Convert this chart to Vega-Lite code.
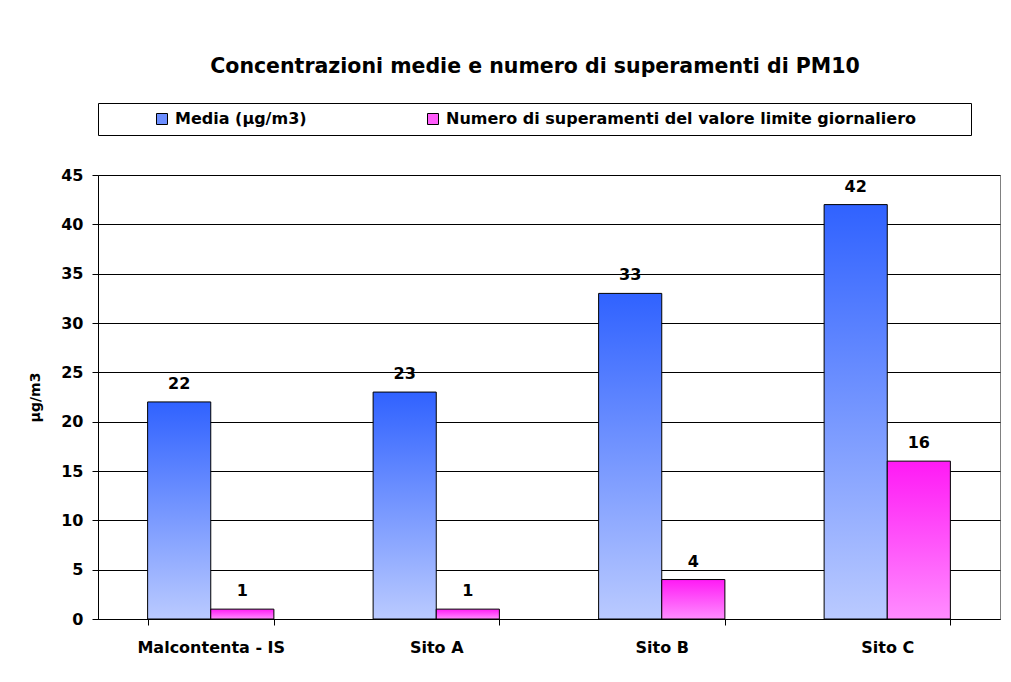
{
  "$schema": "https://vega.github.io/schema/vega-lite/v6.json",
  "width": 902,
  "height": 444,
  "autosize": {"type": "none"},
  "padding": {"left": 98, "top": 175, "right": 11, "bottom": 63},
  "background": "white",
  "title": {
    "text": "Concentrazioni medie e numero di superamenti di PM10",
    "font": "DejaVu Sans",
    "fontSize": 20.5,
    "fontWeight": "bold",
    "color": "#000000",
    "anchor": "middle",
    "offset": 25,
    "dx": -14
  },
  "data": {
    "values": [
      {"sito": "Malcontenta - IS", "serie": "Media (µg/m3)", "valore": 22},
      {"sito": "Malcontenta - IS", "serie": "Numero di superamenti del valore limite giornaliero", "valore": 1},
      {"sito": "Sito A", "serie": "Media (µg/m3)", "valore": 23},
      {"sito": "Sito A", "serie": "Numero di superamenti del valore limite giornaliero", "valore": 1},
      {"sito": "Sito B", "serie": "Media (µg/m3)", "valore": 33},
      {"sito": "Sito B", "serie": "Numero di superamenti del valore limite giornaliero", "valore": 4},
      {"sito": "Sito C", "serie": "Media (µg/m3)", "valore": 42},
      {"sito": "Sito C", "serie": "Numero di superamenti del valore limite giornaliero", "valore": 16}
    ]
  },
  "encoding": {
    "x": {
      "field": "sito",
      "type": "nominal",
      "sort": null,
      "scale": {"paddingInner": 0.44, "paddingOuter": 0.22},
      "axis": {
        "title": null,
        "labelAngle": 0,
        "labelFont": "DejaVu Sans",
        "labelFontSize": 16,
        "labelFontWeight": "bold",
        "labelColor": "#000000",
        "labelPadding": 14,
        "tickBand": "extent",
        "tickSize": 6,
        "tickColor": "#000000",
        "domainColor": "#000000",
        "grid": false
      }
    },
    "xOffset": {"field": "serie", "type": "nominal", "scale": {"paddingInner": 0, "paddingOuter": 0}},
    "y": {
      "field": "valore",
      "type": "quantitative",
      "scale": {"domain": [0, 45], "nice": false},
      "axis": {
        "title": "µg/m3",
        "titleFont": "DejaVu Sans",
        "titleFontSize": 14,
        "titleFontWeight": "bold",
        "titleColor": "#000000",
        "titlePadding": 18,
        "values": [0, 5, 10, 15, 20, 25, 30, 35, 40, 45],
        "labelFont": "DejaVu Sans",
        "labelFontSize": 16,
        "labelFontWeight": "bold",
        "labelColor": "#000000",
        "labelPadding": 9,
        "tickSize": 6,
        "tickColor": "#000000",
        "domainColor": "#000000",
        "gridColor": "#000000",
        "gridWidth": 1,
        "gridOpacity": 1
      }
    }
  },
  "layer": [
    {
      "mark": {"type": "bar", "stroke": "#000000", "strokeWidth": 1},
      "encoding": {
        "color": {
          "condition": [
            {
              "test": "datum.serie === 'Media (µg/m3)'",
              "value": {"gradient": "linear", "x1": 0, "y1": 0, "x2": 0, "y2": 1,
                "stops": [{"offset": 0, "color": "#3062FF"}, {"offset": 1, "color": "#BACAFF"}]}
            },
            {
              "test": "datum.serie !== 'Media (µg/m3)'",
              "value": {"gradient": "linear", "x1": 0, "y1": 0, "x2": 0, "y2": 1,
                "stops": [{"offset": 0, "color": "#FF1AF5"}, {"offset": 1, "color": "#FF8CFF"}]}
            }
          ],
          "field": "serie",
          "type": "nominal",
          "scale": {
            "domain": ["Media (µg/m3)", "Numero di superamenti del valore limite giornaliero"],
            "range": ["#6C8EFF", "#FF5CFA"]
          },
          "legend": {
            "title": " ",
            "titleOrient": "right",
            "titleFontSize": 1,
            "titlePadding": 47,
            "orient": "top",
            "direction": "horizontal",
            "labelFont": "DejaVu Sans",
            "labelFontSize": 16,
            "labelFontWeight": "bold",
            "labelColor": "#000000",
            "labelLimit": 600,
            "labelOffset": 5,
            "symbolType": "square",
            "symbolSize": 121,
            "symbolStrokeColor": "#000000",
            "symbolStrokeWidth": 1,
            "symbolOffset": 48,
            "columnPadding": 70,
            "strokeColor": "#000000",
            "padding": 8,
            "offset": 40
          }
        }
      }
    },
    {
      "mark": {
        "type": "text",
        "baseline": "bottom",
        "dy": -10,
        "font": "DejaVu Sans",
        "fontSize": 16,
        "fontWeight": "bold",
        "color": "#000000"
      },
      "encoding": {
        "text": {"field": "valore", "type": "quantitative", "format": "d"}
      }
    }
  ],
  "config": {
    "view": {"stroke": "#808080", "strokeWidth": 1}
  }
}
